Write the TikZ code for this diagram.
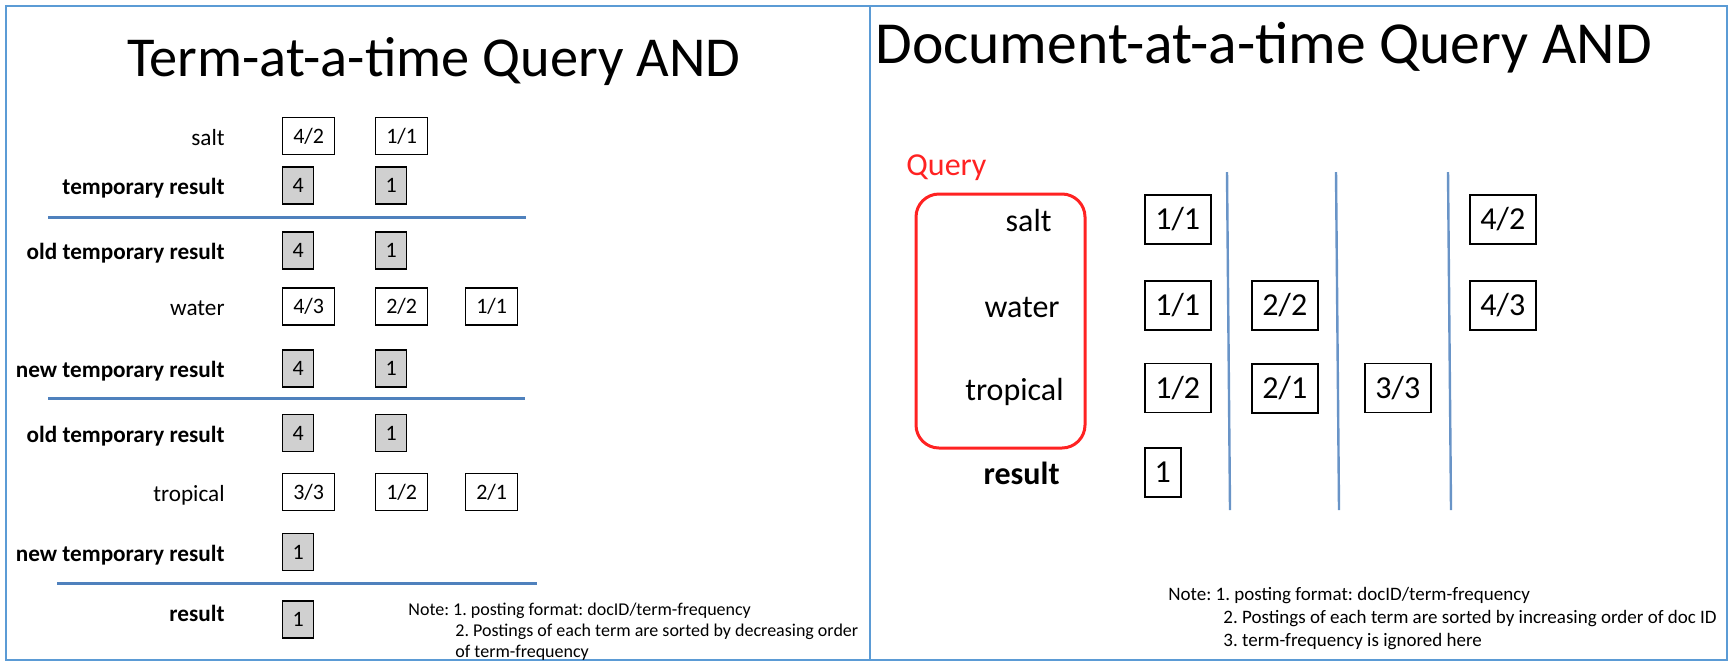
\documentclass[tikz,border=0pt]{standalone}
\usepackage{fontspec}
\setmainfont{Carlito}
\usepackage{xcolor}
\definecolor{FrameBlue}{HTML}{5B9BD5}
\definecolor{RuleBlue}{HTML}{4F81BD}
\definecolor{QueryRed}{HTML}{FF2222}
\definecolor{TmpGray}{HTML}{D0D0D0}
\frenchspacing

\begin{document}
\begin{tikzpicture}[x=0.5pt,y=-0.5pt,inner sep=0pt,font=\fontsize{11.6}{13.8}\selectfont]
  \tikzset{
    post/.style={draw,line width=.7pt,fill=white,anchor=west,minimum width=26pt,minimum height=18.5pt,
      text height=7pt,text depth=0pt,font=\fontsize{11}{13}\selectfont},
    temp/.style={post,fill=TmpGray,minimum width=15.5pt},
    rpost/.style={draw,line width=.8pt,fill=white,anchor=west,minimum width=33pt,minimum height=24.5pt,
      text height=10.2pt,text depth=0pt,font=\fontsize{16}{19}\selectfont},
    rone/.style={rpost,minimum width=18pt},
    lterm/.style={anchor=base east},
    lres/.style={anchor=base east,font=\fontsize{11.6}{13.8}\selectfont\bfseries},
    rterm/.style={anchor=base east,font=\fontsize{16}{19}\selectfont},
    sepline/.style={RuleBlue,line width=1.5pt},
    colline/.style={RuleBlue!85,line width=1.2pt},
    lnote/.style={anchor=base west,font=\fontsize{9}{11}\selectfont},
    rnote/.style={anchor=base west,font=\fontsize{9.5}{12}\selectfont},
    title/.style={anchor=base west,font=\fontsize{28.2}{34}\selectfont}
  }
  \useasboundingbox (0,0) rectangle (1732,670);
  \draw[FrameBlue,line width=1pt] (6,6) rectangle (1727,660);
  \draw[FrameBlue,line width=1pt] (870,6) -- (870,660);

  \node[title] (taat) at (127,76) {Term-at-a-time Query AND};
  \node[title,font=\fontsize{29.8}{36}\selectfont] (daat) at (875,63) {Document-at-a-time Query AND};

  % term-at-a-time
  \node[lterm] (salt) at (225,145) {salt};
  \node[post] (salt42) at (282,136) {4/2};
  \node[post] (salt11) at (375,136) {1/1};
  \node[lres] (tmpA) at (225,194.5) {temporary result};
  \node[temp] (tmpA4) at (282,185.5) {4};
  \node[temp] (tmpA1) at (375,185.5) {1};
  \draw[sepline] (48,217) -- (526,217);

  \node[lres] (oldA) at (225,259.5) {old temporary result};
  \node[temp] (oldA4) at (282,250.5) {4};
  \node[temp] (oldA1) at (375,250.5) {1};
  \node[lterm] (water) at (225,315.5) {water};
  \node[post] (water43) at (282,306.5) {4/3};
  \node[post] (water22) at (375,306.5) {2/2};
  \node[post] (water11) at (465,306.5) {1/1};
  \node[lres] (newA) at (225,377.5) {new temporary result};
  \node[temp] (newA4) at (282,368.5) {4};
  \node[temp] (newA1) at (375,368.5) {1};
  \draw[sepline] (48,398) -- (525,398);

  \node[lres] (oldB) at (225,442) {old temporary result};
  \node[temp] (oldB4) at (282,433) {4};
  \node[temp] (oldB1) at (375,433) {1};
  \node[lterm] (trop) at (225,501) {tropical};
  \node[post] (trop33) at (282,492) {3/3};
  \node[post] (trop12) at (375,492) {1/2};
  \node[post] (trop21) at (465,492) {2/1};
  \node[lres] (newB) at (225,561) {new temporary result};
  \node[temp] (newB1) at (282,552) {1};
  \draw[sepline] (57,583) -- (537,583);

  \node[lres] (resA) at (225,621) {result};
  \node[temp] (resA1) at (282,619.5) {1};
  \node[lnote] (lnoteA) at (408,615) {Note: 1. posting format: docID/term-frequency};
  \node[lnote] (lnoteB) at (455,636) {2. Postings of each term are sorted by decreasing order};
  \node[lnote] (lnoteC) at (455,657) {of term-frequency};

  % document-at-a-time
  \node[anchor=base west,font=\fontsize{16}{19}\selectfont,text=QueryRed] (query) at (906,175) {Query};
  \draw[QueryRed,line width=1.5pt,rounded corners=11.5pt] (916,194) rectangle (1085,448);
  \node[rterm] (rsalt) at (1052,231.5) {salt};
  \node[rterm] (rwater) at (1060,317.5) {water};
  \node[rterm] (rtrop) at (1064,400) {tropical};
  \node[rterm,font=\fontsize{16}{19}\selectfont\bfseries] (rres) at (1060,484.5) {result};

  \node[rpost] (rsalt11) at (1144,219.5) {1/1};
  \node[rpost] (rsalt42) at (1469,219.5) {4/2};
  \node[rpost] (rwater11) at (1144,305.5) {1/1};
  \node[rpost] (rwater22) at (1251,305.5) {2/2};
  \node[rpost] (rwater43) at (1469,305.5) {4/3};
  \node[rpost] (rtrop12) at (1144,388) {1/2};
  \node[rpost] (rtrop21) at (1251,388.5) {2/1};
  \node[rpost] (rtrop33) at (1364,388) {3/3};
  \node[rone] (rres1) at (1144,472.5) {1};

  \draw[colline] (1227,172) -- (1230,510);
  \draw[colline] (1336,172) -- (1339,510);
  \draw[colline] (1448,172) -- (1451,510);

  \node[rnote] (rnoteA) at (1168,600) {Note: 1. posting format: docID/term-frequency};
  \node[rnote] (rnoteB) at (1223,623) {2. Postings of each term are sorted by increasing order of doc ID};
  \node[rnote] (rnoteC) at (1223,646) {3. term-frequency is ignored here};
\end{tikzpicture}
\end{document}
